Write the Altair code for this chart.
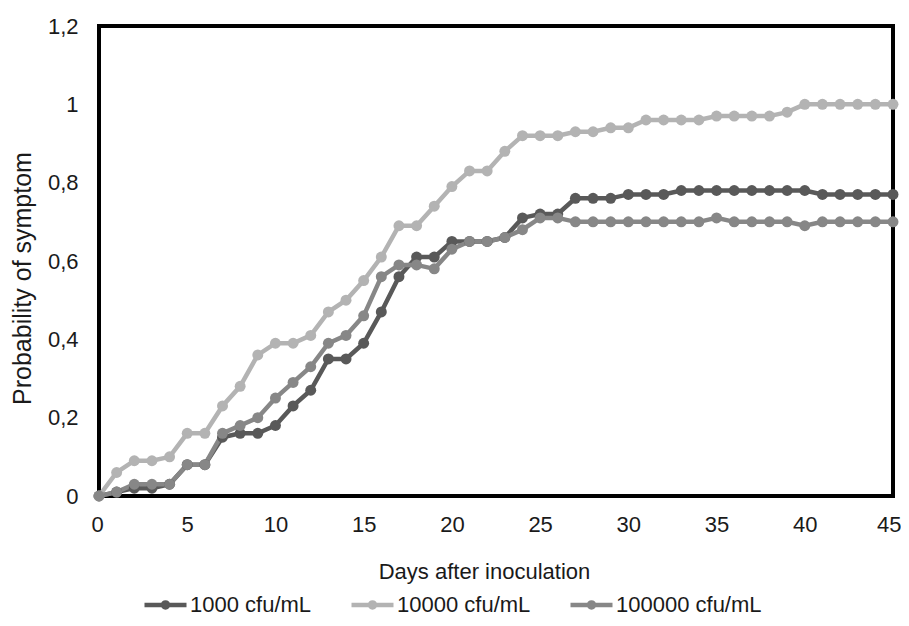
import altair as alt
import pandas as pd

days = list(range(46))
series_names = ["1000 cfu/mL", "10000 cfu/mL", "100000 cfu/mL"]
series_colors = ["#595959", "#b3b3b3", "#878787"]

d1000 = [0, 0.01, 0.02, 0.02, 0.03, 0.08, 0.08, 0.15, 0.16, 0.16, 0.18, 0.23, 0.27, 0.35, 0.35, 0.39,
         0.47, 0.56, 0.61, 0.61, 0.65, 0.65, 0.65, 0.66, 0.71, 0.72, 0.72, 0.76, 0.76, 0.76, 0.77, 0.77,
         0.77, 0.78, 0.78, 0.78, 0.78, 0.78, 0.78, 0.78, 0.78, 0.77, 0.77, 0.77, 0.77, 0.77]
d10000 = [0, 0.06, 0.09, 0.09, 0.10, 0.16, 0.16, 0.23, 0.28, 0.36, 0.39, 0.39, 0.41, 0.47, 0.50, 0.55,
          0.61, 0.69, 0.69, 0.74, 0.79, 0.83, 0.83, 0.88, 0.92, 0.92, 0.92, 0.93, 0.93, 0.94, 0.94, 0.96,
          0.96, 0.96, 0.96, 0.97, 0.97, 0.97, 0.97, 0.98, 1.0, 1.0, 1.0, 1.0, 1.0, 1.0]
d100000 = [0, 0.01, 0.03, 0.03, 0.03, 0.08, 0.08, 0.16, 0.18, 0.20, 0.25, 0.29, 0.33, 0.39, 0.41, 0.46,
           0.56, 0.59, 0.59, 0.58, 0.63, 0.65, 0.65, 0.66, 0.68, 0.71, 0.71, 0.70, 0.70, 0.70, 0.70, 0.70,
           0.70, 0.70, 0.70, 0.71, 0.70, 0.70, 0.70, 0.70, 0.69, 0.70, 0.70, 0.70, 0.70, 0.70]

rows = []
for name, vals in zip(series_names, [d1000, d10000, d100000]):
    for d, v in zip(days, vals):
        rows.append({"day": d, "p": v, "series": name})
df = pd.DataFrame(rows)

FONT = "Liberation Sans"
TXT = "#1a1a1a"
legend_symbol = "M-1,0L1,0M0.12,0A0.12,0.12,0,1,1,-0.12,0A0.12,0.12,0,1,1,0.12,0"

x = alt.X("day:Q", scale=alt.Scale(domain=[0, 45], nice=False),
          axis=alt.Axis(values=list(range(0, 46, 5)), title="Days after inoculation",
                        grid=False, ticks=False, domain=False, labelPadding=18,
                        labelFontSize=22, labelColor=TXT, labelFont=FONT,
                        titleFontSize=22, titleFontWeight="normal", titleColor=TXT,
                        titleFont=FONT, titleX=385, titleY=82, titleBaseline="alphabetic",
                        titleAlign="center", labelFlush=True, labelFlushOffset=8))
y = alt.Y("p:Q", scale=alt.Scale(domain=[0, 1.2], nice=False),
          axis=alt.Axis(values=[0, 0.2, 0.4, 0.6, 0.8, 1.0, 1.2], title="Probability of symptom",
                        grid=False, ticks=False, domain=False, labelPadding=21,
                        labelExpr="replace(format(datum.value, '.1~f'), '.', ',')",
                        labelFontSize=22, labelColor=TXT, labelFont=FONT,
                        titleFontSize=25, titleFontWeight="normal", titleColor=TXT,
                        titleFont=FONT, titleAngle=270, titleX=-77, titleY=252,
                        titleBaseline="middle", titleAlign="center", labelFlush=False))
color = alt.Color("series:N", scale=alt.Scale(domain=series_names, range=series_colors),
                  legend=alt.Legend(title=None, orient="none", direction="horizontal",
                                    legendX=43, legendY=555, symbolType=legend_symbol,
                                    symbolSize=1764, symbolStrokeWidth=4.5, labelFontSize=22,
                                    labelFont=FONT, labelColor=TXT, labelOffset=1,
                                    columnPadding=30, padding=0, labelLimit=300))

base = alt.Chart(df)
lines = base.mark_line(strokeWidth=4.5).encode(x=x, y=y, color=color)
points = base.mark_point(filled=True, size=120, opacity=1).encode(
    x=x, y=y, color=alt.Color("series:N", scale=alt.Scale(domain=series_names, range=series_colors), legend=None))

chart = alt.layer(lines, points).properties(
    width=794, height=470,
    autosize=alt.AutoSizeParams(type="none"),
    padding={"left": 91, "top": 18, "right": 8, "bottom": 120},
    background="white",
).configure_view(stroke="black", strokeWidth=4)

chart.save("out.html", embed_options={"renderer": "svg", "actions": False})
